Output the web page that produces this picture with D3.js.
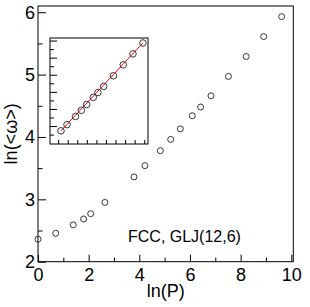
<!DOCTYPE html>
<html>
<head>
<meta charset="utf-8">
<script src="https://cdn.jsdelivr.net/npm/d3@7"></script>
<style>
  body { margin: 0; background: #fff; }
  svg text { font-family: "Liberation Sans", Arial, Helvetica, sans-serif; fill: #000; }
</style>
</head>
<body>
<div id="chart"></div>
<script>
// data
const lnP = [0, 0.70, 1.39, 1.80, 2.08, 2.64, 3.79, 4.22, 4.83, 5.24, 5.62, 6.09, 6.42, 6.83, 7.52, 8.22, 8.91, 9.62];
const lnW = [2.36, 2.455, 2.59, 2.685, 2.77, 2.95, 3.36, 3.54, 3.78, 3.96, 4.13, 4.34, 4.48, 4.66, 4.97, 5.29, 5.61, 5.93];
const insetStart = 6;  // inset shows the points from ln(P) ~ 3.8 on
const fitIntercept = 1.69, fitSlope = 0.441;

const xTicks = [0, 2, 4, 6, 8, 10];
const xMinor = [1, 3, 5, 7, 9];
const yTicks = [2, 3, 4, 5, 6];
const yMinor = [2.5, 3.5, 4.5, 5.5];
const insetYMajor = [3.5, 4, 4.5, 5, 5.5, 6];
const insetYMinor = [3.25, 3.75, 4.25, 4.75, 5.25, 5.75];
const insetXTicks = [3.59, 4.27, 4.95, 5.63, 6.31, 6.99, 7.67, 8.35, 9.03, 9.71];
const label = "FCC, GLJ(12,6)";

const W = 310, H = 307;
const plot = {left: 38, right: 293.3, top: 6, bottom: 261.7};
const ins = {left: 50, right: 148, top: 38, bottom: 144};

const svg = d3.select("#chart").append("svg")
    .attr("width", W)
    .attr("height", H);

const x = d3.scaleLinear().domain([0, 10.08]).range([plot.left, plot.right]);
const y = d3.scaleLinear().domain([2, 6.1]).range([plot.bottom, plot.top]);

function cleanAxis(g) {
    g.select(".domain").remove();
    g.selectAll("line").attr("stroke", "#000");
}

// main axes
svg.append("g")
    .attr("transform", `translate(${plot.left},0)`)
    .call(d3.axisLeft(y).tickValues(yTicks).tickSize(-8).tickPadding(3).tickFormat(d3.format("d")))
    .call(cleanAxis)
    .selectAll("text").attr("font-size", 18).attr("fill", "#000");

svg.append("g")
    .attr("transform", `translate(${plot.left},0)`)
    .call(d3.axisLeft(y).tickValues(yMinor).tickSize(-4.5).tickFormat(""))
    .call(cleanAxis);

svg.append("g")
    .attr("transform", `translate(0,${plot.bottom})`)
    .call(d3.axisBottom(x).tickValues(xTicks).tickSize(-7).tickPadding(7).tickFormat(d3.format("d")))
    .call(cleanAxis)
    .selectAll("text").attr("font-size", 18).attr("fill", "#000");

svg.append("g")
    .attr("transform", `translate(0,${plot.bottom})`)
    .call(d3.axisBottom(x).tickValues(xMinor).tickSize(-4).tickFormat(""))
    .call(cleanAxis);

// frame
svg.append("rect")
    .attr("x", plot.left).attr("y", plot.top)
    .attr("width", plot.right - plot.left).attr("height", plot.bottom - plot.top)
    .attr("fill", "none").attr("stroke", "#000").attr("stroke-width", 1);

// main points
svg.append("g").selectAll("circle")
    .data(lnP.map((p, i) => [p, lnW[i]]))
    .join("circle")
    .attr("cx", d => x(d[0]))
    .attr("cy", d => y(d[1]))
    .attr("r", 3)
    .attr("fill", "none")
    .attr("stroke", "#222")
    .attr("stroke-width", 0.9);

// axis titles
svg.append("text")
    .attr("x", (plot.left + plot.right) / 2)
    .attr("y", 297)
    .attr("text-anchor", "middle")
    .attr("font-size", 18)
    .text("ln(P)");

svg.append("text")
    .attr("transform", `translate(17,${(plot.top + plot.bottom) / 2}) rotate(-90)`)
    .attr("text-anchor", "middle")
    .attr("font-size", 18)
    .text("ln(<ω>)");

svg.append("text")
    .attr("x", 128)
    .attr("y", 242)
    .attr("font-size", 16)
    .text(label);

// inset
const ix = d3.scaleLinear().domain([3.01, 9.98]).range([ins.left, ins.right]);
const iy = d3.scaleLinear().domain([2.975, 6.075]).range([ins.bottom, ins.top]);

svg.append("rect")
    .attr("x", ins.left).attr("y", ins.top)
    .attr("width", ins.right - ins.left).attr("height", ins.bottom - ins.top)
    .attr("fill", "#fff").attr("stroke", "#000").attr("stroke-width", 1);

svg.append("g")
    .attr("transform", `translate(${ins.left},0)`)
    .call(d3.axisLeft(iy).tickValues(insetYMajor).tickSize(-7).tickFormat(""))
    .call(cleanAxis);
svg.append("g")
    .attr("transform", `translate(${ins.left},0)`)
    .call(d3.axisLeft(iy).tickValues(insetYMinor).tickSize(-4).tickFormat(""))
    .call(cleanAxis);
svg.append("g")
    .attr("transform", `translate(0,${ins.bottom})`)
    .call(d3.axisBottom(ix).tickValues(insetXTicks).tickSize(-4).tickFormat(""))
    .call(cleanAxis);

const insetPts = lnP.slice(insetStart).map((p, i) => [p, lnW[insetStart + i]]);
const fitX = d3.extent(insetPts, d => d[0]);

svg.append("path")
    .datum(fitX.map(v => [v, fitIntercept + fitSlope * v]))
    .attr("d", d3.line().x(d => ix(d[0])).y(d => iy(d[1])))
    .attr("fill", "none")
    .attr("stroke", "#ff0000")
    .attr("stroke-width", 1);

svg.append("g").selectAll("circle")
    .data(insetPts)
    .join("circle")
    .attr("cx", d => ix(d[0]))
    .attr("cy", d => iy(d[1]))
    .attr("r", 3.3)
    .attr("fill", "none")
    .attr("stroke", "#222")
    .attr("stroke-width", 0.9);
</script>
</body>
</html>
